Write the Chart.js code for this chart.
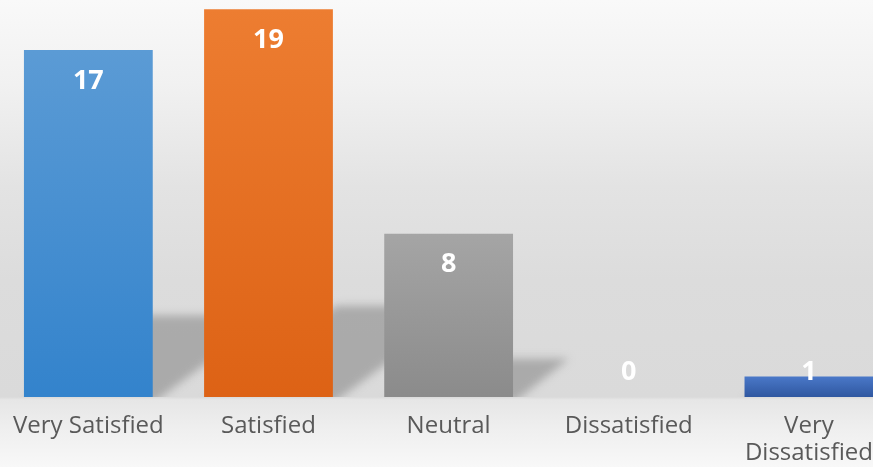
<!DOCTYPE html>
<html>
<head>
<meta charset="utf-8">
<script src="https://cdn.jsdelivr.net/npm/chart.js@4/dist/chart.umd.min.js"></script>
<style>
  html, body { margin: 0; padding: 0; width: 873px; height: 467px; overflow: hidden; }
  body {
    background: linear-gradient(to bottom, #f9f9f9 0%, #f1f1f1 18%, #e3e3e3 40%, #dcdcdc 60%, #dadada 85%, #e6e6e6 85.6%, #efefef 92%, #f8f8f8 100%);
  }
  #wrap { position: absolute; left: -3px; top: 0; width: 902px; height: 467px; }
</style>
</head>
<body>
<div id="wrap"><canvas id="c"></canvas></div>
<script>
// ---- data ----
const categories = ['Very Satisfied', 'Satisfied', 'Neutral', 'Dissatisfied', ['Very', 'Dissatisfied']];
const values = [17, 19, 8, 0, 1];

// ---- styles ----
const topColors = ['#5b9bd5', '#ed7d31', '#a5a5a5', '#ffc000', '#4a78c8'];
const bottomColors = ['#3383cc', '#dd6215', '#8b8b8b', '#e0a800', '#2f57a0'];

function barFill(ctx) {
  const i = ctx.dataIndex;
  const chart = ctx.chart;
  const y = chart.scales && chart.scales.y;
  if (!y || ctx.type !== 'data') return topColors[i];
  const top = y.getPixelForValue(ctx.raw);
  const base = y.getPixelForValue(0);
  if (!isFinite(top) || base - top < 1) return topColors[i];
  const g = chart.ctx.createLinearGradient(0, top, 0, base);
  g.addColorStop(0, topColors[i]);
  g.addColorStop(1, bottomColors[i]);
  return g;
}

const shadowPlugin = {
  id: 'barShadow',
  beforeDatasetsDraw(chart) {
    const c = chart.ctx;
    const meta = chart.getDatasetMeta(0);
    c.save();
    c.beginPath();
    c.rect(0, 0, chart.width, chart.scales.y.getPixelForValue(0));
    c.clip();
    c.filter = 'blur(4px)';
    c.fillStyle = 'rgba(150,150,150,0.7)';
    meta.data.forEach(bar => {
      const h = bar.base - bar.y;
      if (h < 2) return;
      const hs = 0.235 * h;
      const dx = 1.45 * hs;
      const l = bar.x - bar.width / 2, r = bar.x + bar.width / 2;
      c.beginPath();
      c.moveTo(l, bar.base + 6);
      c.lineTo(r, bar.base + 6);
      c.lineTo(r + dx, bar.base - hs);
      c.lineTo(l + dx, bar.base - hs);
      c.closePath();
      c.fill();
    });
    c.restore();
  }
};

const labelPlugin = {
  id: 'valueLabels',
  afterDatasetsDraw(chart) {
    const c = chart.ctx;
    const meta = chart.getDatasetMeta(0);
    c.save();
    c.fillStyle = '#ffffff';
    c.font = 'bold 27px "Open Sans"';
    c.textAlign = 'center';
    c.textBaseline = 'middle';
    meta.data.forEach((bar, i) => {
      const y = Math.min(bar.y + 31, bar.base - 25);
      c.fillText(String(values[i]), bar.x, y);
    });
    c.restore();
  }
};

new Chart(document.getElementById('c'), {
  type: 'bar',
  data: {
    labels: categories,
    datasets: [{
      data: values,
      backgroundColor: barFill,
      borderWidth: 0,
      barPercentage: 1,
      categoryPercentage: 0.715
    }]
  },
  options: {
    responsive: true,
    maintainAspectRatio: false,
    animation: false,
    devicePixelRatio: 1,
    layout: { padding: 0 },
    plugins: { legend: { display: false }, tooltip: { enabled: false } },
    scales: {
      x: {
        grid: { display: false, drawTicks: false },
        border: { display: false },
        ticks: {
          color: '#595959',
          font: { family: '"Open Sans"', size: 24, lineHeight: 1.12 },
          padding: 16,
          maxRotation: 0,
          autoSkip: false
        },
        afterFit(scale) { scale.height = 70; }
      },
      y: {
        display: false,
        min: 0,
        max: 19.45
      }
    }
  },
  plugins: [shadowPlugin, labelPlugin]
});
</script>
</body>
</html>
